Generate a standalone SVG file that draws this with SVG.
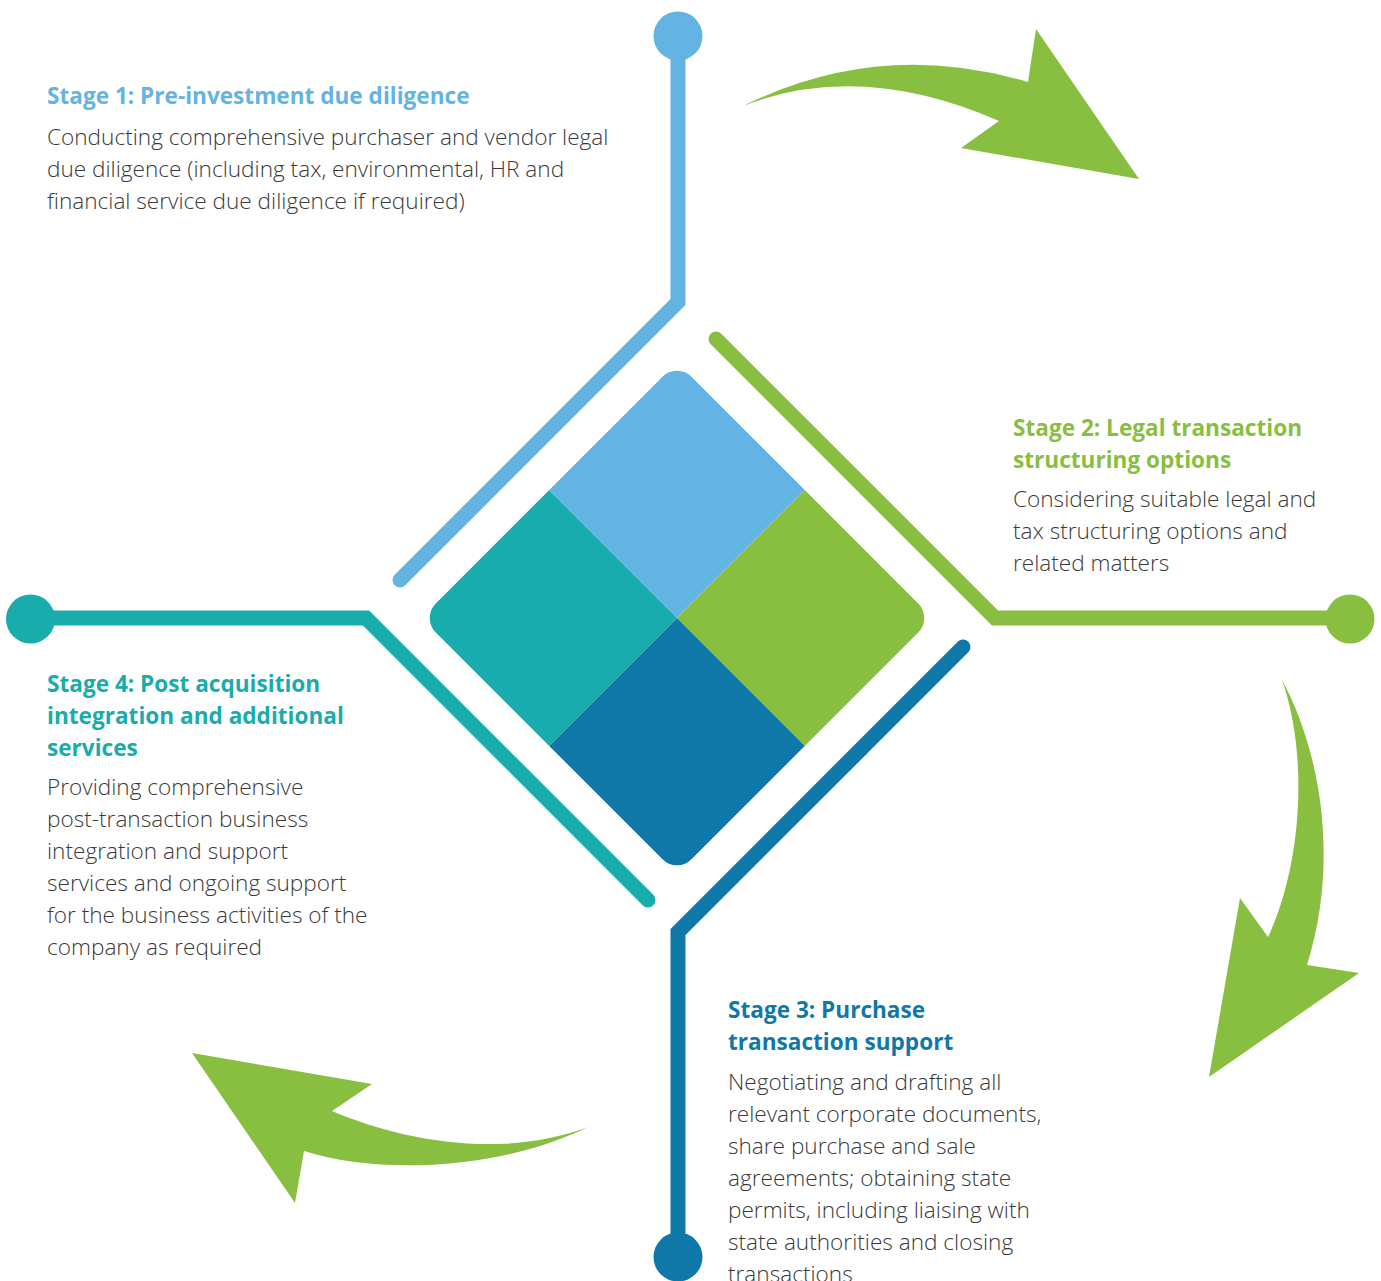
<svg xmlns="http://www.w3.org/2000/svg" width="1381" height="1281" viewBox="0 0 1381 1281">
<style>
.t{font-family:"Open Sans","Liberation Sans",sans-serif;font-size:22.6px;font-weight:700}
.b{font-family:"Open Sans","Liberation Sans",sans-serif;font-size:22.6px;font-weight:300;fill:#3a3a3a}
.ln{fill:none;stroke-width:15;stroke-linecap:round;stroke-linejoin:miter}
.arr{fill:#88BF41}
</style>
<defs>
<clipPath id="dclip"><rect x="-181" y="-181" width="362" height="362" rx="21"/></clipPath>
</defs>
<rect width="1381" height="1281" fill="#fff"/>
<g id="connectors">
<path class="ln" stroke="#63B3E3" d="M678,36 L678,302 L400,580"/>
<path class="ln" stroke="#88BF41" d="M716,339 L995,618 L1350,618"/>
<path class="ln" stroke="#1078A8" d="M963,647 L678,932 L678,1256"/>
<path class="ln" stroke="#18ACAC" d="M30,618 L366,618 L648,900"/>
<circle cx="678" cy="36" r="24.5" fill="#63B3E3"/>
<circle cx="1350" cy="619" r="24.5" fill="#88BF41"/>
<circle cx="678" cy="1257" r="24.5" fill="#1078A8"/>
<circle cx="30.5" cy="619" r="24.5" fill="#18ACAC"/>
<path class="arr" d="M743,106 Q880,38 1028,82 L1036,29 L1139,179 L961,148 L999,121 Q860,60 743,106 Z"/>
<path class="arr" d="M1282,680 C1320,750 1340,860 1307,965 L1359,973 L1209,1077 L1240,898 L1268,937 C1300,870 1310,760 1282,680 Z"/>
<path class="arr" d="M192,1053 L372,1084 L332,1111 C400,1140 500,1160 588,1127 C500,1170 380,1175 304,1151 L295,1203 Z"/>
</g>
<g id="center" transform="translate(677,618) rotate(45)">
<g clip-path="url(#dclip)">
<rect x="-181" y="-181" width="181" height="181" fill="#63B3E3"/>
<rect x="0" y="-181" width="181" height="181" fill="#88BF41"/>
<rect x="0" y="0" width="181" height="181" fill="#1078A8"/>
<rect x="-181" y="0" width="181" height="181" fill="#18ACAC"/>
</g>
</g>
<g id="stage1">
<text class="t" x="47" y="104" fill="#63B3E3">Stage 1: Pre-investment due diligence</text>
<text class="b" x="47" y="145">Conducting comprehensive purchaser and vendor legal</text>
<text class="b" x="47" y="177">due diligence (including tax, environmental, HR and</text>
<text class="b" x="47" y="209">financial service due diligence if required)</text>
</g>
<g id="stage2">
<text class="t" x="1013" y="436" fill="#88BF41">Stage 2: Legal transaction</text>
<text class="t" x="1013" y="468" fill="#88BF41">structuring options</text>
<text class="b" x="1013" y="507">Considering suitable legal and</text>
<text class="b" x="1013" y="539">tax structuring options and</text>
<text class="b" x="1013" y="571">related matters</text>
</g>
<g id="stage3">
<text class="t" x="728" y="1018" fill="#1078A8">Stage 3: Purchase</text>
<text class="t" x="728" y="1050" fill="#1078A8">transaction support</text>
<text class="b" x="728" y="1090">Negotiating and drafting all</text>
<text class="b" x="728" y="1122">relevant corporate documents,</text>
<text class="b" x="728" y="1154">share purchase and sale</text>
<text class="b" x="728" y="1186">agreements; obtaining state</text>
<text class="b" x="728" y="1218">permits, including liaising with</text>
<text class="b" x="728" y="1250">state authorities and closing</text>
<text class="b" x="728" y="1282">transactions</text>
</g>
<g id="stage4">
<text class="t" x="47" y="692" fill="#18ACAC">Stage 4: Post acquisition</text>
<text class="t" x="47" y="724" fill="#18ACAC">integration and additional</text>
<text class="t" x="47" y="756" fill="#18ACAC">services</text>
<text class="b" x="47" y="795">Providing comprehensive</text>
<text class="b" x="47" y="827">post-transaction business</text>
<text class="b" x="47" y="859">integration and support</text>
<text class="b" x="47" y="891">services and ongoing support</text>
<text class="b" x="47" y="923">for the business activities of the</text>
<text class="b" x="47" y="955">company as required</text>
</g>
</svg>
